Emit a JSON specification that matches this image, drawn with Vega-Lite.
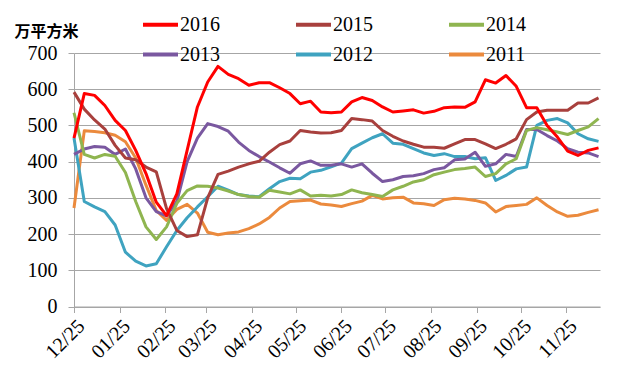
{
  "$schema": "https://vega.github.io/schema/vega-lite/v6.json",
  "width": 526,
  "height": 253.5,
  "autosize": "none",
  "padding": {"left": 74, "top": 53, "right": 20, "bottom": 75.5},
  "background": "white",
  "config": {"view": {"stroke": null}, "font": "Liberation Serif"},
  "data": {"values": [
    {"d": "2014/12/25", "2016": 465, "2015": 592, "2014": 535, "2013": 420, "2012": 465, "2011": 272},
    {"d": "2015/01/01", "2016": 588, "2015": 545, "2014": 420, "2013": 435, "2012": 290, "2011": 485},
    {"d": "2015/01/08", "2016": 583, "2015": 515, "2014": 410, "2013": 442, "2012": 275, "2011": 483},
    {"d": "2015/01/15", "2016": 555, "2015": 490, "2014": 420, "2013": 440, "2012": 262, "2011": 480},
    {"d": "2015/01/22", "2016": 514, "2015": 445, "2014": 415, "2013": 420, "2012": 225, "2011": 473},
    {"d": "2015/01/29", "2016": 486, "2015": 410, "2014": 370, "2013": 435, "2012": 150, "2011": 455},
    {"d": "2015/02/05", "2016": 431, "2015": 405, "2014": 290, "2013": 380, "2012": 125, "2011": 410},
    {"d": "2015/02/12", "2016": 367, "2015": 385, "2014": 220, "2013": 300, "2012": 112, "2011": 335},
    {"d": "2015/02/19", "2016": 288, "2015": 372, "2014": 185, "2013": 262, "2012": 118, "2011": 265},
    {"d": "2015/02/26", "2016": 251, "2015": 270, "2014": 220, "2013": 250, "2012": 165, "2011": 238},
    {"d": "2015/03/05", "2016": 311, "2015": 210, "2014": 285, "2013": 290, "2012": 210, "2011": 268},
    {"d": "2015/03/12", "2016": 431, "2015": 193, "2014": 320, "2013": 400, "2012": 245, "2011": 282},
    {"d": "2015/03/19", "2016": 551, "2015": 198, "2014": 333, "2013": 465, "2012": 275, "2011": 258},
    {"d": "2015/03/26", "2016": 620, "2015": 300, "2014": 332, "2013": 505, "2012": 303, "2011": 205},
    {"d": "2015/04/02", "2016": 663, "2015": 365, "2014": 327, "2013": 497, "2012": 332, "2011": 198},
    {"d": "2015/04/09", "2016": 641, "2015": 374, "2014": 319, "2013": 484, "2012": 321, "2011": 203},
    {"d": "2015/04/16", "2016": 629, "2015": 385, "2014": 309, "2013": 454, "2012": 309, "2011": 206},
    {"d": "2015/04/23", "2016": 611, "2015": 394, "2014": 304, "2013": 431, "2012": 305, "2011": 215},
    {"d": "2015/04/30", "2016": 618, "2015": 401, "2014": 302, "2013": 414, "2012": 303, "2011": 228},
    {"d": "2015/05/07", "2016": 618, "2015": 426, "2014": 321, "2013": 399, "2012": 325, "2011": 246},
    {"d": "2015/05/14", "2016": 604, "2015": 447, "2014": 316, "2013": 383, "2012": 345, "2011": 272},
    {"d": "2015/05/21", "2016": 588, "2015": 457, "2014": 311, "2013": 368, "2012": 354, "2011": 290},
    {"d": "2015/05/28", "2016": 560, "2015": 486, "2014": 322, "2013": 394, "2012": 353, "2011": 292},
    {"d": "2015/06/04", "2016": 567, "2015": 482, "2014": 305, "2013": 402, "2012": 371, "2011": 294},
    {"d": "2015/06/11", "2016": 537, "2015": 479, "2014": 307, "2013": 390, "2012": 376, "2011": 283},
    {"d": "2015/06/18", "2016": 535, "2015": 480, "2014": 305, "2013": 390, "2012": 386, "2011": 280},
    {"d": "2015/06/25", "2016": 537, "2015": 486, "2014": 309, "2013": 394, "2012": 396, "2011": 276},
    {"d": "2015/07/02", "2016": 565, "2015": 519, "2014": 322, "2013": 385, "2012": 436, "2011": 284},
    {"d": "2015/07/09", "2016": 577, "2015": 516, "2014": 314, "2013": 394, "2012": 451, "2011": 291},
    {"d": "2015/07/16", "2016": 569, "2015": 512, "2014": 309, "2013": 368, "2012": 466, "2011": 307},
    {"d": "2015/07/23", "2016": 551, "2015": 486, "2014": 304, "2013": 345, "2012": 477, "2011": 297},
    {"d": "2015/07/30", "2016": 537, "2015": 470, "2014": 322, "2013": 350, "2012": 451, "2011": 300},
    {"d": "2015/08/06", "2016": 540, "2015": 457, "2014": 332, "2013": 359, "2012": 448, "2011": 302},
    {"d": "2015/08/13", "2016": 543, "2015": 448, "2014": 344, "2013": 361, "2012": 436, "2011": 286},
    {"d": "2015/08/20", "2016": 534, "2015": 440, "2014": 350, "2013": 367, "2012": 424, "2011": 284},
    {"d": "2015/08/27", "2016": 539, "2015": 440, "2014": 364, "2013": 378, "2012": 417, "2011": 279},
    {"d": "2015/09/03", "2016": 549, "2015": 437, "2014": 371, "2013": 383, "2012": 422, "2011": 295},
    {"d": "2015/09/10", "2016": 551, "2015": 449, "2014": 378, "2013": 405, "2012": 414, "2011": 299},
    {"d": "2015/09/17", "2016": 550, "2015": 461, "2014": 381, "2013": 407, "2012": 414, "2011": 297},
    {"d": "2015/09/24", "2016": 565, "2015": 461, "2014": 385, "2013": 426, "2012": 408, "2011": 293},
    {"d": "2015/10/01", "2016": 626, "2015": 449, "2014": 359, "2013": 387, "2012": 411, "2011": 286},
    {"d": "2015/10/08", "2016": 617, "2015": 436, "2014": 367, "2013": 394, "2012": 348, "2011": 261},
    {"d": "2015/10/15", "2016": 638, "2015": 448, "2014": 394, "2013": 420, "2012": 362, "2011": 276},
    {"d": "2015/10/22", "2016": 608, "2015": 463, "2014": 408, "2013": 414, "2012": 380, "2011": 279},
    {"d": "2015/10/29", "2016": 549, "2015": 516, "2014": 486, "2013": 489, "2012": 385, "2011": 282},
    {"d": "2015/11/05", "2016": 549, "2015": 537, "2014": 494, "2013": 489, "2012": 500, "2011": 300},
    {"d": "2015/11/12", "2016": 500, "2015": 542, "2014": 488, "2013": 472, "2012": 514, "2011": 279},
    {"d": "2015/11/19", "2016": 468, "2015": 542, "2014": 482, "2013": 457, "2012": 519, "2011": 261},
    {"d": "2015/11/26", "2016": 429, "2015": 542, "2014": 475, "2013": 436, "2012": 507, "2011": 249},
    {"d": "2015/12/03", "2016": 417, "2015": 562, "2014": 486, "2013": 426, "2012": 477, "2011": 252},
    {"d": "2015/12/10", "2016": 431, "2015": 562, "2014": 496, "2013": 424, "2012": 463, "2011": 260},
    {"d": "2015/12/17", "2016": 438, "2015": 576, "2014": 519, "2013": 414, "2012": 456, "2011": 267}
  ]},
  "transform": [{"fold": ["2011", "2012", "2013", "2014", "2015", "2016"], "as": ["s", "v"]}],
  "mark": {"type": "line", "strokeWidth": 3, "strokeJoin": "round"},
  "encoding": {
    "x": {
      "field": "d", "type": "temporal",
      "scale": {"domain": [{"year": 2014, "month": 12, "date": 25}, {"year": 2015, "month": 12, "date": 18}]},
      "axis": {
        "values": [
          {"year": 2014, "month": 12, "date": 25},
          {"year": 2015, "month": 1, "date": 25},
          {"year": 2015, "month": 2, "date": 25},
          {"year": 2015, "month": 3, "date": 25},
          {"year": 2015, "month": 4, "date": 25},
          {"year": 2015, "month": 5, "date": 25},
          {"year": 2015, "month": 6, "date": 25},
          {"year": 2015, "month": 7, "date": 25},
          {"year": 2015, "month": 8, "date": 25},
          {"year": 2015, "month": 9, "date": 25},
          {"year": 2015, "month": 10, "date": 25},
          {"year": 2015, "month": 11, "date": 25}
        ],
        "format": "%m/%d",
        "labelAngle": -45,
        "labelOverlap": false,
        "labelBound": false,
        "labelFlush": false,
        "grid": false,
        "domainColor": "#A6A6A6",
        "tickColor": "#A6A6A6",
        "tickSize": 6,
        "labelFont": "Liberation Serif",
        "labelFontSize": 20,
        "labelColor": "black",
        "labelPadding": 3,
        "title": null
      }
    },
    "y": {
      "field": "v", "type": "quantitative",
      "scale": {"domain": [0, 700]},
      "axis": {
        "values": [0, 100, 200, 300, 400, 500, 600, 700],
        "grid": true,
        "gridColor": "#A6A6A6",
        "domainColor": "#A6A6A6",
        "tickColor": "#A6A6A6",
        "tickSize": 6,
        "labelFont": "Liberation Serif",
        "labelFontSize": 20,
        "labelColor": "black",
        "labelPadding": 11,
        "labelOverlap": false,
        "title": "万平方米",
        "titleAngle": 0,
        "titleX": -60,
        "titleY": -22,
        "titleAlign": "left",
        "titleBaseline": "middle",
        "titleFont": "Noto Sans CJK SC",
        "titleFontSize": 16,
        "titleFontWeight": "bold",
        "titleColor": "black"
      }
    },
    "color": {
      "field": "s", "type": "nominal",
      "scale": {
        "domain": ["2016", "2015", "2014", "2013", "2012", "2011"],
        "range": ["#FF0000", "#A8403D", "#8FB550", "#7A58A0", "#3FA3C0", "#EB8A3D"]
      },
      "legend": {
        "orient": "none",
        "legendX": 67,
        "legendY": -48,
        "columns": 3,
        "direction": "horizontal",
        "symbolType": "stroke",
        "symbolSize": 1225,
        "symbolStrokeWidth": 4,
        "labelFont": "Liberation Serif",
        "labelFontSize": 20,
        "labelColor": "black",
        "labelOffset": 0,
        "columnPadding": 68,
        "rowPadding": 0,
        "title": null
      }
    }
  }
}
